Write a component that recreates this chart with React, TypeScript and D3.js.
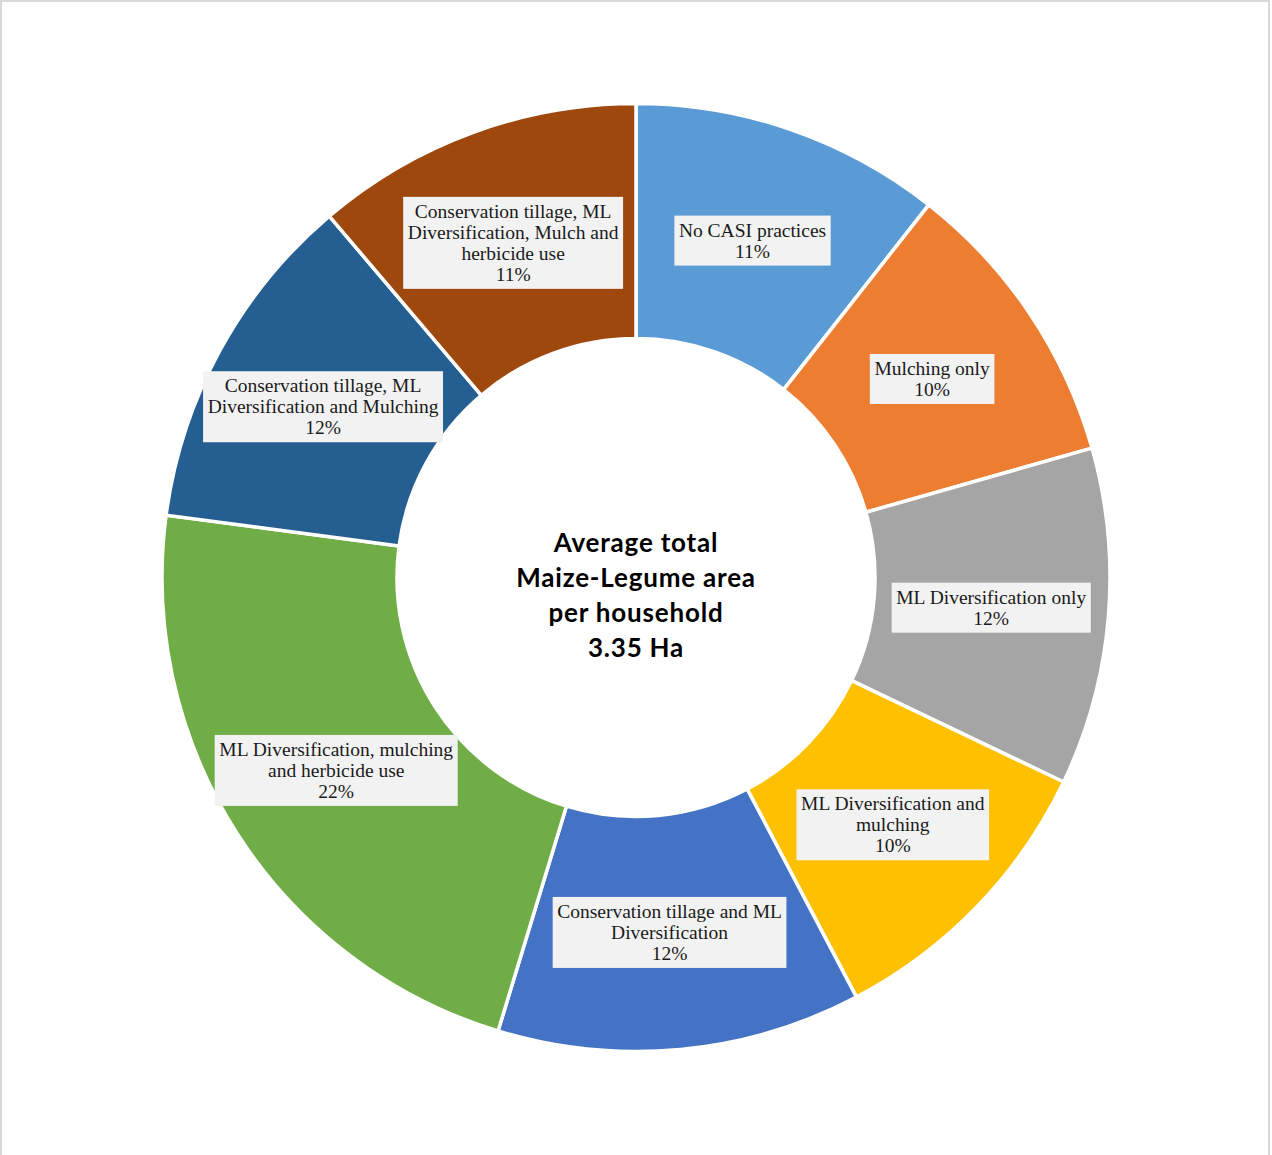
import React, { useEffect, useRef } from "react";
import * as d3 from "d3";

const categories = [
  "No CASI practices",
  "Mulching only",
  "ML Diversification only",
  "ML Diversification and mulching",
  "Conservation tillage and ML Diversification",
  "ML Diversification, mulching and herbicide use",
  "Conservation tillage, ML Diversification and Mulching",
  "Conservation tillage, ML Diversification, Mulch and herbicide use",
];
const values = [10.6, 10.0, 11.5, 10.2, 12.4, 22.4, 11.7, 11.2];
const percentLabels = ["11%", "10%", "12%", "10%", "12%", "22%", "12%", "11%"];
const labelLines = [
  ["No CASI practices"],
  ["Mulching only"],
  ["ML Diversification only"],
  ["ML Diversification and", "mulching"],
  ["Conservation tillage and ML", "Diversification"],
  ["ML Diversification, mulching", "and herbicide use"],
  ["Conservation tillage, ML", "Diversification and Mulching"],
  ["Conservation tillage, ML", "Diversification, Mulch and", "herbicide use"],
];
const colors = ["#5B9BD5", "#ED7D31", "#A5A5A5", "#FFC000", "#4472C4", "#70AD47", "#255E91", "#9E480E"];
const centerLines = ["Average total", "Maize-Legume area", "per household", "3.35 Ha"];

export default function App() {
  const ref = useRef<SVGSVGElement>(null);
  useEffect(() => {
    const svg = d3.select(ref.current);
    svg.selectAll("*").remove();
    const H = 1155;
    const cx = 636, cy = 577.5, R = 474, r = 239;

    svg.append("rect").attr("x", 1).attr("y", 1).attr("width", 1268).attr("height", H + 10)
      .attr("fill", "#fff").attr("stroke", "#D9D9D9").attr("stroke-width", 2);

    const data = categories.map((c, i) => ({ c, v: values[i], i }));
    const pie = d3.pie<any>().value((d: any) => d.v).sort(null);
    const arcs = pie(data);
    const arc = d3.arc<any>().innerRadius(r).outerRadius(R);
    const g = svg.append("g").attr("transform", `translate(${cx},${cy})`);
    g.selectAll("path.slice").data(arcs).enter().append("path")
      .attr("class", "slice")
      .attr("d", arc as any)
      .attr("fill", (d: any) => colors[d.data.i])
      .attr("stroke", "#fff").attr("stroke-width", 3.5).attr("stroke-linejoin", "miter");

    const fs = 19.5, lh = 21;
    arcs.forEach((a: any) => {
      const [x, y] = arc.centroid(a);
      const lines = [...labelLines[a.data.i], percentLabels[a.data.i]];
      const n = lines.length;
      const lg = g.append("g");
      const rect = lg.append("rect").attr("fill", "#F2F2F2");
      const t = lg.append("text").attr("font-family", "'Liberation Serif', 'Times New Roman', serif")
        .attr("font-size", fs).attr("fill", "#1a1a1a").attr("text-anchor", "middle");
      lines.forEach((ln, k) => {
        t.append("tspan").attr("x", x).attr("y", y - ((n - 1) / 2) * lh + k * lh + fs * 0.33).text(ln);
      });
      const bb = (t.node() as SVGTextElement).getBBox();
      const bw = bb.width + 9;
      const bh = n * lh + 8;
      rect.attr("x", x - bw / 2).attr("y", y - bh / 2).attr("width", bw).attr("height", bh);
    });

    const ct = g.append("text").attr("font-family", "Lato, 'Open Sans', sans-serif").attr("font-weight", "bold")
      .attr("font-size", 26).attr("letter-spacing", 0.8).attr("fill", "#000").attr("text-anchor", "middle");
    const clh = 35;
    centerLines.forEach((ln, k) => {
      ct.append("tspan").attr("x", 0).attr("y", 552 - cy + k * clh).text(ln);
    });
  }, []);
  return (
    <svg ref={ref} width={1272} height={1155} style={{ position: "absolute", left: 0, top: 0, display: "block" }} />
  );
}
